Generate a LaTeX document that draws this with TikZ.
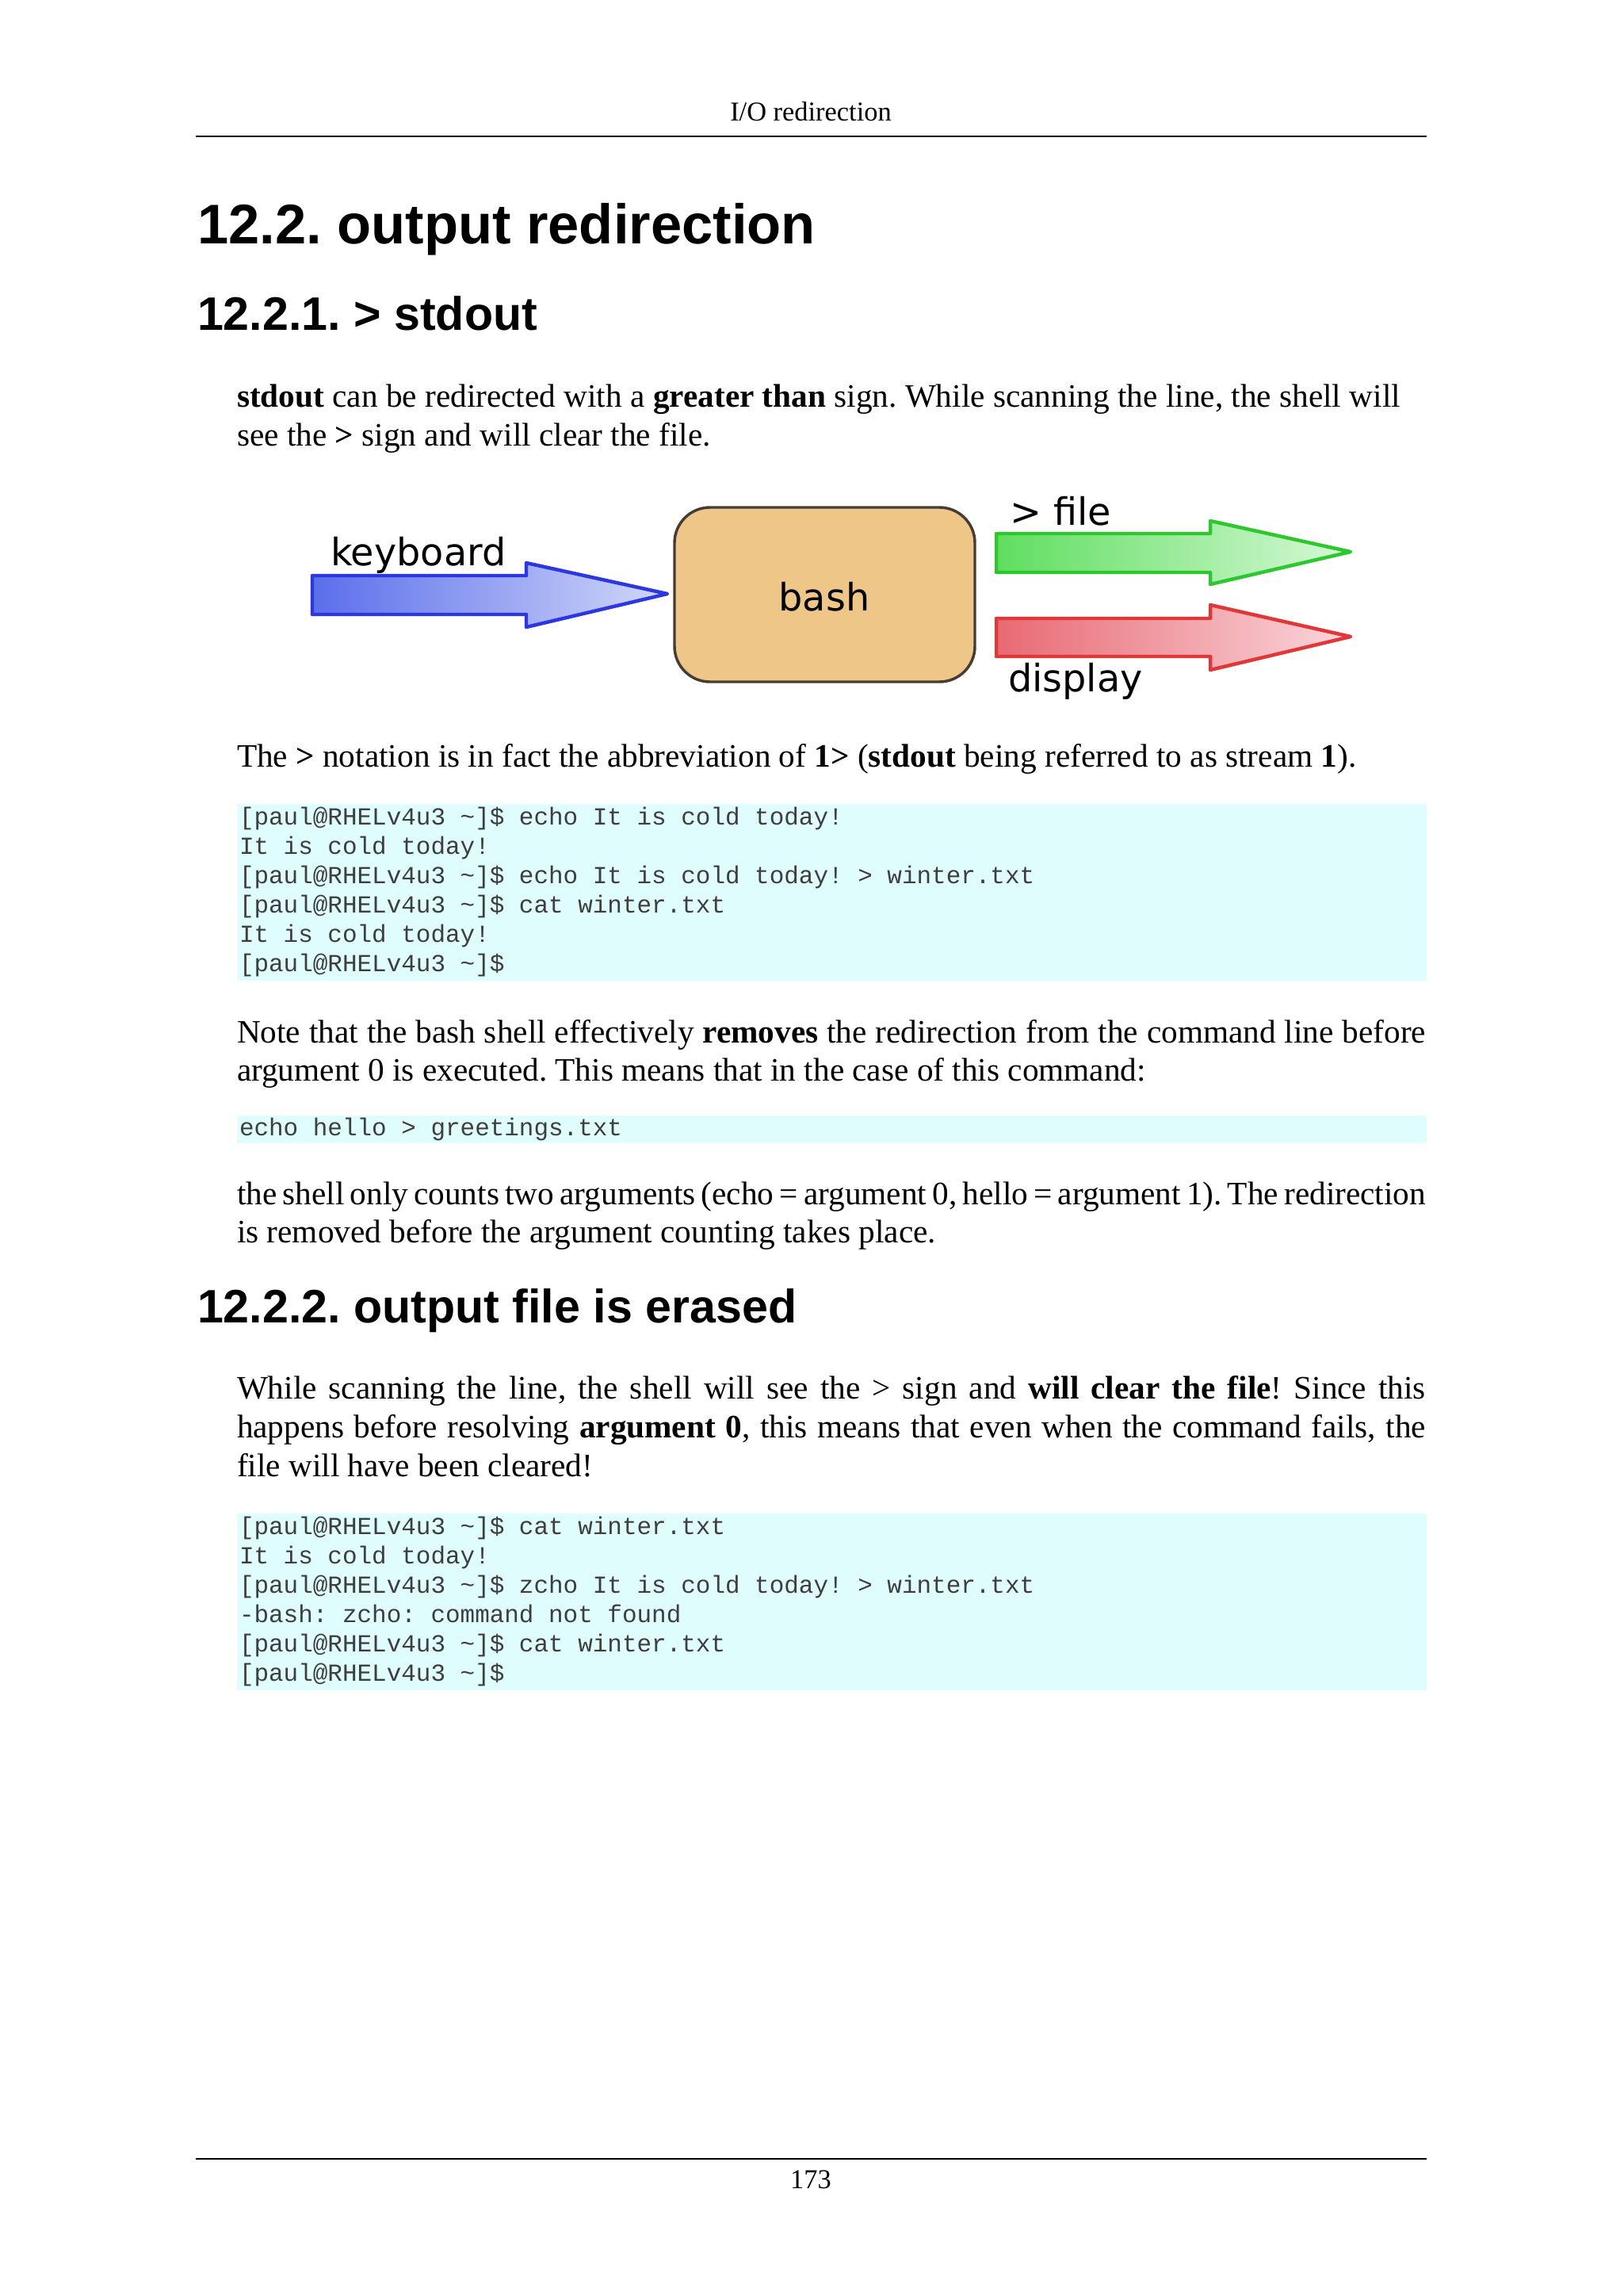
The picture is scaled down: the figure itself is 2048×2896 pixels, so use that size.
\documentclass[tikz,border=0pt]{standalone}
\usepackage{fontspec}
\setmainfont{Liberation Serif}
\newfontfamily\headfont{Liberation Sans}
\newfontfamily\codefont{Liberation Mono}
\newfontfamily\diafont{DejaVu Sans}
\definecolor{codebg}{RGB}{224,253,253}
\definecolor{codetext}{RGB}{62,62,62}
\definecolor{kbdraw}{RGB}{45,55,225}
\definecolor{kbleft}{RGB}{90,110,235}
\definecolor{kbright}{RGB}{210,216,248}
\definecolor{gndraw}{RGB}{45,200,45}
\definecolor{gnleft}{RGB}{95,222,95}
\definecolor{gnright}{RGB}{215,248,215}
\definecolor{rddraw}{RGB}{225,55,55}
\definecolor{rdleft}{RGB}{232,105,115}
\definecolor{rdright}{RGB}{250,215,220}
\definecolor{bashfill}{RGB}{238,198,136}
\definecolor{bashdraw}{RGB}{70,60,50}
\newcommand{\tld}{\textasciitilde}
\AtBeginDocument{\frenchspacing}
\tikzset{
  txt/.style={anchor=base west,inner sep=0pt,outer sep=0pt},
  ctxt/.style={anchor=base,inner sep=0pt,outer sep=0pt},
  body/.style={txt,font=\fontsize{12pt}{14.4pt}\selectfont},
  hone/.style={txt,font=\headfont\bfseries\fontsize{20.5pt}{25pt}\selectfont},
  htwo/.style={txt,font=\headfont\bfseries\fontsize{17.2pt}{21pt}\selectfont},
  code/.style={txt,text=codetext,font=\codefont\fontsize{9pt}{10.8pt}\selectfont},
  codebox/.style={fill=codebg,draw=none},
  rulestyle/.style={line width=0.75pt,black},
  dia/.style={inner sep=0pt,outer sep=0pt,font=\diafont\fontsize{13.87pt}{16pt}\selectfont},
  fatarrow/.style={line width=1.3pt,line join=round},
}
\newcommand{\jline}[1]{\makebox[436pt][s]{#1}}
\begin{document}
\frenchspacing
\begin{tikzpicture}[x=0.29066pt,y=-0.29066pt]
\useasboundingbox (0,0) rectangle (2048,2896);
\fill[white] (0,0) rectangle (2048,2896);

% header
\node[ctxt,font=\fontsize{10pt}{12pt}\selectfont] (hdr) at (1023,152) {I/O redirection};
\coordinate (hrl) at (247,172); \coordinate (hrr) at (1800,172);
\draw[rulestyle] (hrl) -- (hrr);

% headings and first paragraph
\node[hone] (h1) at (249,307) {12.2. output redirection};
\node[htwo] (h2) at (249,416) {12.2.1. > stdout};
\node[body] (p1a) at (299,513) {\textbf{stdout} can be redirected with a \textbf{greater than} sign. While scanning the line, the shell will};
\node[body] (p1b) at (299,562) {see the \textbf{>} sign and will clear the file.};

% diagram
\path[fatarrow,draw=kbdraw,left color=kbleft,right color=kbright]
  (394,726) -- (664,726) -- (664,710) -- (842,749) -- (664,791) -- (664,775) -- (394,775) -- cycle;
\node[dia,anchor=base west] (kbd) at (417,713) {keyboard};
\node[draw=bashdraw,fill=bashfill,line width=1pt,rounded corners=13pt,
      minimum width=379*0.29066pt,minimum height=220*0.29066pt,inner sep=0pt] (bash) at (1040.5,750) {};
\node[dia,anchor=base] (bashlbl) at (1040,770) {bash};
\path[fatarrow,draw=gndraw,left color=gnleft,right color=gnright]
  (1257,673) -- (1527,673) -- (1527,657) -- (1704,696) -- (1527,737) -- (1527,722) -- (1257,722) -- cycle;
\node[dia,anchor=base west] (filelbl) at (1274,662) {> file};
\path[fatarrow,draw=rddraw,left color=rdleft,right color=rdright]
  (1257,780) -- (1527,780) -- (1527,763) -- (1704,803) -- (1527,845) -- (1527,828) -- (1257,828) -- cycle;
\node[dia,anchor=base west] (displbl) at (1272,872) {display};

% paragraph 2 and code 1
\node[body] (p2) at (299,967) {The \textbf{>} notation is in fact the abbreviation of \textbf{1>} (\textbf{stdout} being referred to as stream \textbf{1}).};
\fill[codebox] (299,1014) rectangle (1800,1237);
\node[code] (c1a) at (302,1040) {[paul@RHELv4u3 \tld]\$ echo It is cold today!};
\node[code] (c1b) at (302,1077) {It is cold today!};
\node[code] (c1c) at (302,1114) {[paul@RHELv4u3 \tld]\$ echo It is cold today! > winter.txt};
\node[code] (c1d) at (302,1151) {[paul@RHELv4u3 \tld]\$ cat winter.txt};
\node[code] (c1e) at (302,1188) {It is cold today!};
\node[code] (c1f) at (302,1225) {[paul@RHELv4u3 \tld]\$};

% paragraph 3 and code 2
\node[body] (p3a) at (299,1315) {\jline{Note that the bash shell effectively \textbf{removes} the redirection from the command line before}};
\node[body] (p3b) at (299,1363) {argument 0 is executed. This means that in the case of this command:};
\fill[codebox] (299,1407) rectangle (1800,1442);
\node[code] (c2) at (302,1432) {echo hello > greetings.txt};
\node[body] (p4a) at (299,1519) {\jline{the shell only counts two arguments (echo = argument 0, hello = argument 1). The redirection}};
\node[body] (p4b) at (299,1567) {is removed before the argument counting takes place.};

% section 12.2.2
\node[htwo] (h3) at (249,1668) {12.2.2. output file is erased};
\node[body] (p5a) at (299,1764) {\jline{While scanning the line, the shell will see the > sign and \textbf{will clear the file}! Since this}};
\node[body] (p5b) at (299,1813) {\jline{happens before resolving \textbf{argument 0}, this means that even when the command fails, the}};
\node[body] (p5c) at (299,1862) {file will have been cleared!};
\fill[codebox] (299,1909) rectangle (1800,2132);
\node[code] (c3a) at (302,1935) {[paul@RHELv4u3 \tld]\$ cat winter.txt};
\node[code] (c3b) at (302,1972) {It is cold today!};
\node[code] (c3c) at (302,2009) {[paul@RHELv4u3 \tld]\$ zcho It is cold today! > winter.txt};
\node[code] (c3d) at (302,2046) {-bash: zcho: command not found};
\node[code] (c3e) at (302,2083) {[paul@RHELv4u3 \tld]\$ cat winter.txt};
\node[code] (c3f) at (302,2120) {[paul@RHELv4u3 \tld]\$};

% footer
\coordinate (frl) at (247,2723); \coordinate (frr) at (1800,2723);
\draw[rulestyle] (frl) -- (frr);
\node[ctxt,font=\fontsize{10pt}{12pt}\selectfont] (pg) at (1023,2760) {173};
\end{tikzpicture}
\end{document}
